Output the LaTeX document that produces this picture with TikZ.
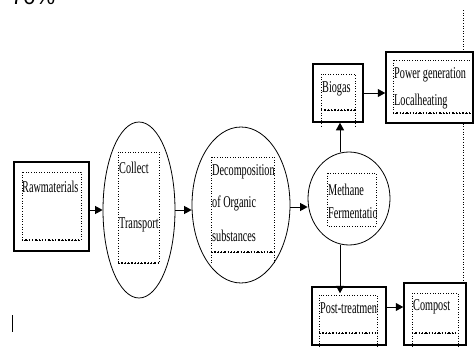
\documentclass[tikz,border=0pt]{standalone}
\usepackage{fontspec}
\setmainfont{Liberation Serif}[FakeStretch=0.62]
\newfontfamily\pctfont{Liberation Sans}
\usetikzlibrary{shapes.geometric,arrows.meta}
\tikzset{
  outerbox/.style={draw, line width=1.5pt, rectangle, inner sep=0pt},
  stage/.style={draw, line width=0.8pt, ellipse, inner sep=0pt},
  framebox/.style={draw, dotted, line width=0.6pt},
  framebase/.style={dotted, line width=1.3pt},
  lbl/.style={anchor=west, inner sep=0pt, font=\fontsize{16.5}{16.5}\selectfont},
  flow/.style={line width=1pt, -{Triangle[length=7.5pt,width=8pt]}},
  guide/.style={dotted, line width=0.6pt},
}
\begin{document}
\begin{tikzpicture}[x=1pt,y=-1pt]
\useasboundingbox (0,0) rectangle (475,348);
\clip (0,0) rectangle (475,348);

% header figure, cut by the page edge
\node[anchor=base west, inner sep=0pt, font=\pctfont\fontsize{22}{22}\selectfont] (pct) at (11,5) {70\%};

% outer frames and process stages
\node[outerbox, minimum width=75pt, minimum height=89pt] (raw) at (51.5,206.5) {};
\node[stage, minimum width=72pt, minimum height=176pt] (collect) at (139,210) {};
\node[stage, minimum width=98pt, minimum height=156pt] (decomp) at (241,205) {};
\node[stage, minimum width=82pt, minimum height=93pt] (methane) at (349,198.5) {};
\node[outerbox, minimum width=50pt, minimum height=58pt] (biogas) at (338,93) {};
\node[outerbox, minimum width=87pt, minimum height=71pt] (power) at (429.5,87.5) {};
\node[outerbox, minimum width=74pt, minimum height=58pt] (post) at (349,316) {};
\node[outerbox, minimum width=62pt, minimum height=62pt] (compost) at (435,314) {};

% dotted text frames
\draw[framebox] (22,172) rectangle (81,240);
\draw[framebase] (22,240) -- (81,240);
\draw[framebox] (118,152) rectangle (159,263);
\draw[framebase] (118,263) -- (159,263);
\draw[framebox] (211,157) rectangle (274,252);
\draw[framebase] (211,252) -- (274,252);
\draw[framebox] (211,252) -- (211,263) (274,252) -- (274,263);
\draw[framebox] (327,173) rectangle (376,226);
\draw[framebox] (321,74) rectangle (355,110);
\draw[framebase] (321,110) -- (355,110);
\draw[framebox] (321,110) -- (321,127) (355,110) -- (355,127);
\draw[framebox] (393,60) rectangle (472,113);
\draw[framebase] (393,113) -- (472,113);
\draw[framebox] (319,295) rectangle (377,333);
\draw[framebase] (319,333) -- (377,333);
\draw[framebox] (319,333) -- (319,348) (377,333) -- (377,348);
\draw[framebox] (412,293) rectangle (458,333);
\draw[framebase] (412,333) -- (458,333);
\draw[framebox] (412,333) -- (412,348) (458,333) -- (458,348);

% labels
\node[lbl] (rawtxt) at (22,187) {Rawmaterials};
\node[lbl] (collecttxt) at (119,168) {Collect};
\node[lbl] (transtxt) at (119,225) {Transport};
\begin{scope}
  \clip (211,150) rectangle (274,260);
  \node[lbl] (decomptxt) at (212,172) {Decomposition};
  \node[lbl] (organictxt) at (212,203) {of Organic};
  \node[lbl] (substtxt) at (212,236) {substances};
\end{scope}
\begin{scope}
  \clip (327,170) rectangle (376,230);
  \node[lbl] (methtxt) at (328,190) {Methane};
  \node[lbl] (ferttxt) at (328,213) {Fermentation};
\end{scope}
\node[lbl] (biogastxt) at (322,89) {Biogas};
\node[lbl] (powertxt) at (394,75) {Power generation};
\node[lbl] (heattxt) at (394,102) {Localheating};
\begin{scope}
  \clip (319,290) rectangle (377,340);
  \node[lbl] (posttxt) at (320,308) {Post-treatment};
\end{scope}
\node[lbl] (composttxt) at (413,307) {Compost};

% flow arrows
\coordinate (rowa) at (0,210);
\coordinate (rowb) at (0,207);
\draw[flow] (raw.east |- rowa) -- (collect.west |- rowa);
\draw[flow] (collect.east |- rowa) -- (decomp.west |- rowa);
\draw[flow] (decomp.east |- rowb) -- (methane.west |- rowb);
\coordinate (colm) at (340,0);
\draw[flow] (methane.north -| colm) -- (biogas.south -| colm);
\draw[flow] (methane.south -| colm) -- ([yshift=-7pt]post.north -| colm);
\coordinate (rowc) at (0,93);
\draw[flow] (biogas.east |- rowc) -- (power.west |- rowc);
\coordinate (rowd) at (0,307);
\draw[flow] (post.east |- rowd) -- (compost.west |- rowd);

% dotted margin guide
\coordinate (guidetop) at (463,10);
\draw[guide] (guidetop) -- (power.north -| guidetop);
\draw[guide] (power.south -| guidetop) -- (compost.north -| guidetop);

% stray rule at lower left
\coordinate (rulea) at (12,315);
\coordinate (ruleb) at (12,332);
\draw[line width=0.8pt] (rulea) -- (ruleb);
\end{tikzpicture}
\end{document}
